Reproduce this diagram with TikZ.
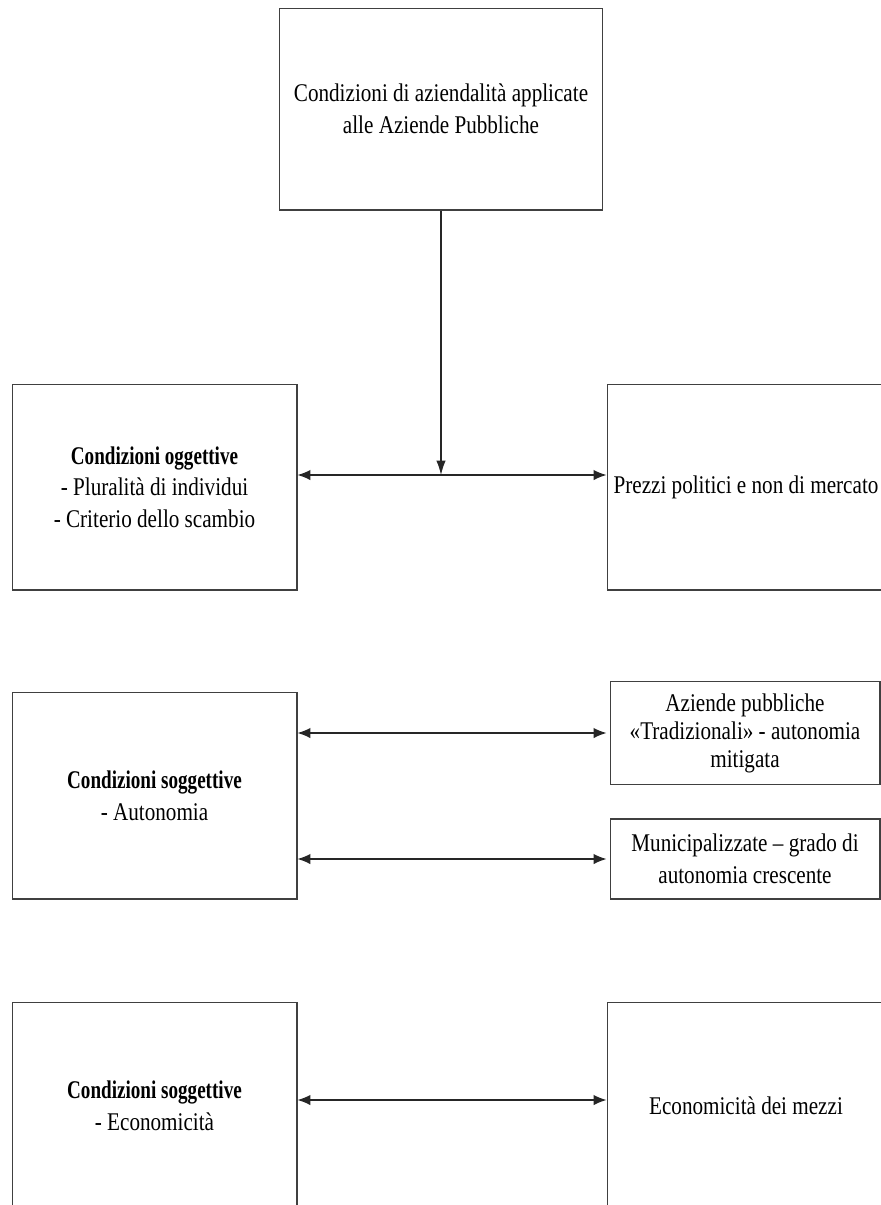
\documentclass[tikz,border=0pt]{standalone}
\usepackage{fontspec}
\setmainfont{Liberation Serif}[FakeStretch=0.83,BoldFeatures={FakeStretch=0.75}]
\usetikzlibrary{arrows.meta}

\begin{document}
\begin{tikzpicture}[x=0.02cm,y=-0.02cm,
    box/.style={draw=black!75,line width=0.6pt,align=center,inner sep=0pt,
        font=\fontsize{14.5}{18}\selectfont},
    link/.style={draw=black!85,line width=0.7pt,{Latex[length=2.6mm,width=2.1mm]}-{Latex[length=2.6mm,width=2.1mm]}},
    down/.style={draw=black!85,line width=0.7pt,-{Latex[length=2.9mm,width=1.9mm]}}]
    \useasboundingbox (0,0) rectangle (881,1205);
    \clip (0,0) rectangle (881,1205);

    \node[box,minimum width=6.46cm,minimum height=4.04cm] (top) at (441,109)
        {Condizioni di aziendalità applicate\\alle Aziende Pubbliche};

    \node[box,minimum width=5.7cm,minimum height=4.12cm] (ogg) at (154.5,487)
        {\textbf{Condizioni oggettive}\\- Pluralità di individui\\- Criterio dello scambio};
    \node[box,minimum width=5.56cm,minimum height=4.12cm] (prezzi) at (746,487)
        {Prezzi politici e non di mercato};

    \draw[link] ([yshift=0.24cm]ogg.east) -- ([yshift=0.24cm]prezzi.west);
    \coordinate (mid) at ([yshift=0.24cm]ogg.east);
    \draw[down] (top.south) -- (top.south |- mid);

    \node[box,minimum width=5.7cm,minimum height=4.14cm] (aut) at (154.5,795.5)
        {\textbf{Condizioni soggettive}\\- Autonomia};
    \node[box,minimum width=5.4cm,minimum height=2.06cm,font=\fontsize{14.5}{16}\selectfont,
        text depth=0.1cm] (trad) at (745,733)
        {Aziende pubbliche\\«Tradizionali» - autonomia\\mitigata};
    \node[box,minimum width=5.4cm,minimum height=1.6cm] (munic) at (745,859)
        {Municipalizzate – grado di\\autonomia crescente};

    \draw[link] (aut.east |- trad.west) -- ([xshift=-0.06cm]trad.west);
    \draw[link] (aut.east |- munic.west) -- ([xshift=-0.06cm]munic.west);

    \node[box,minimum width=5.7cm,minimum height=4.16cm] (eco) at (154.5,1106)
        {\textbf{Condizioni soggettive}\\- Economicità};
    \node[box,minimum width=5.56cm,minimum height=4.16cm] (mezzi) at (746,1106)
        {Economicità dei mezzi};

    \draw[link] ([yshift=0.12cm]eco.east) -- ([yshift=0.12cm]mezzi.west);

\end{tikzpicture}
\end{document}
